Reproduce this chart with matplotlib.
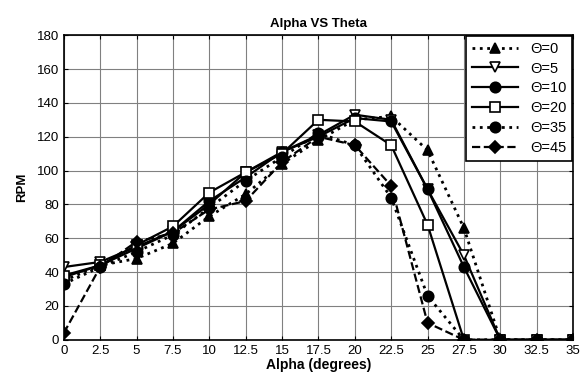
import matplotlib
matplotlib.use("Agg")
import matplotlib.pyplot as plt

plt.rcParams['font.family'] = ['Liberation Sans', 'DejaVu Sans']

alpha = [0, 2.5, 5, 7.5, 10, 12.5, 15, 17.5, 20, 22.5, 25, 27.5, 30, 32.5, 35]
theta_labels = ["Θ=0", "Θ=5", "Θ=10", "Θ=20", "Θ=35", "Θ=45"]

rpm_0 = [35, 44, 48, 57, 73, 86, 104, 118, 130, 132, 112, 66, 0, 0, 0]
rpm_5 = [43, 46, 55, 64, 80, 99, 111, 121, 133, 130, 89, 50, 0, 0, 0]
rpm_10 = [37, 44, 54, 64, 82, 96, 111, 120, 131, 129, 89, 43, 0, 0, 0]
rpm_20 = [38, 44, 56, 67, 87, 99, 110, 130, 129, 115, 68, 0, 0, 0, 0]
rpm_35 = [33, 43, 52, 62, 78, 94, 108, 122, 115, 84, 26, 0, 0, 0, 0]
rpm_45 = [4, 43, 58, 63, 77, 82, 105, 120, 115, 91, 10, 0, 0, 0, 0]

series = [rpm_0, rpm_5, rpm_10, rpm_20, rpm_35, rpm_45]
styles = [
    dict(ls=':', marker='^', mfc='black'),
    dict(ls='-', marker='v', mfc='white'),
    dict(ls='-', marker='o', mfc='black'),
    dict(ls='-', marker='s', mfc='white'),
    dict(ls=':', marker='o', mfc='black'),
    dict(ls='--', marker='D', mfc='black'),
]

fig = plt.figure(figsize=(5.8, 3.78), dpi=100)
ax = fig.add_axes([0.110, 0.101, 0.878, 0.806])

for vals, lab, st in zip(series, theta_labels, styles):
    ms = 6 if st['marker'] == 'D' else 7.5
    lw = 2 if st['ls'] == ':' else 1.6
    ax.plot(alpha, vals, color='black', lw=lw, linestyle=st['ls'],
            marker=st['marker'], markersize=ms, markerfacecolor=st['mfc'],
            markeredgecolor='black', markeredgewidth=1.2, label=lab)

ax.set_xlim(0, 35)
ax.set_ylim(0, 180)
ax.set_xticks(alpha)
ax.set_xticklabels(["0", "2.5", "5", "7.5", "10", "12.5", "15", "17.5", "20",
                    "22.5", "25", "27.5", "30", "32.5", "35"])
ax.set_yticks(range(0, 181, 20))
ax.tick_params(direction='in', top=True, right=True, labelsize=9.5, length=3)
ax.grid(True, color='#808080', lw=0.8)
for s in ax.spines.values():
    s.set_linewidth(1.2)

ax.set_title("Alpha VS Theta", fontsize=9.5, fontweight='bold', pad=6)
ax.set_xlabel("Alpha (degrees)", fontsize=10, fontweight='bold', labelpad=1)
ax.set_ylabel("RPM", fontsize=9.5, fontweight='bold', labelpad=6)

leg = ax.legend(loc='upper right', fontsize=10.5, frameon=True, fancybox=False,
                edgecolor='black', framealpha=1, handlelength=3.2,
                borderaxespad=0.05, labelspacing=0.4)
leg.get_frame().set_linewidth(1.2)

fig.savefig("out.png", dpi=100)
